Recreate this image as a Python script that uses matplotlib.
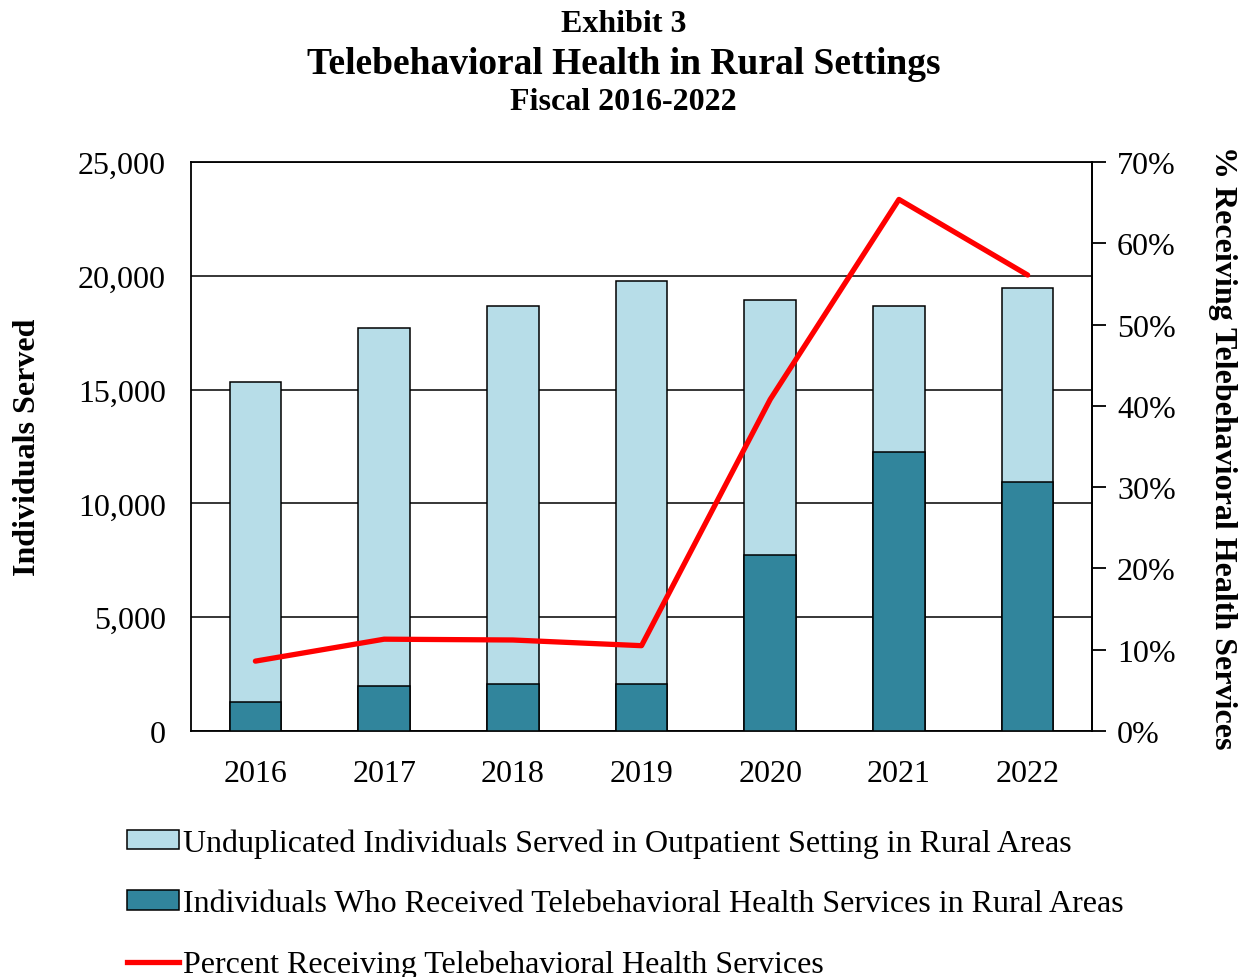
import matplotlib
matplotlib.use("Agg")
import matplotlib.pyplot as plt
from matplotlib.ticker import FuncFormatter, MultipleLocator
from matplotlib.patches import Patch
from matplotlib.lines import Line2D

years = ["2016", "2017", "2018", "2019", "2020", "2021", "2022"]
served_total = [15340, 17700, 18670, 19770, 18940, 18670, 19460]
served_tele = [1270, 1980, 2070, 2070, 7730, 12260, 10940]
pct_tele = [8.6, 11.3, 11.2, 10.5, 40.8, 65.4, 56.1]

light = "#B7DDE8"
dark = "#31859C"
red = "#FF0000"

plt.rcParams["font.family"] = ["Liberation Serif", "DejaVu Serif"]
FS = 23

fig = plt.figure(figsize=(12.47, 9.78), dpi=100)
ax = fig.add_axes([0.1532, 0.2515, 0.7225, 0.5818])

x = list(range(len(years)))
ax.set_axisbelow(True)
ax.yaxis.grid(True, color="black", linewidth=1.1)
ax.bar(x, served_total, width=0.40, color=light, edgecolor="black", linewidth=1.1, zorder=2)
ax.bar(x, served_tele, width=0.40, color=dark, edgecolor="black", linewidth=1.1, zorder=3)

ax.set_xlim(-0.5, len(years) - 0.5)
ax.set_ylim(0, 25000)
ax.yaxis.set_major_locator(MultipleLocator(5000))
ax.yaxis.set_major_formatter(FuncFormatter(lambda v, p: f"{int(v):,}"))
ax.set_xticks(x)
ax.set_xticklabels(years)
ax.tick_params(axis="both", length=0, labelsize=FS)
ax.tick_params(axis="x", pad=20)
ax.tick_params(axis="y", pad=18)
for s in ax.spines.values():
    s.set_color("black")
    s.set_linewidth(1.3)
ax.set_ylabel("Individuals Served", fontsize=FS, fontweight="bold", labelpad=26)

ax2 = ax.twinx()
ax2.plot(x, pct_tele, color=red, linewidth=3.8, solid_capstyle="round", zorder=5)
ax2.set_ylim(0, 70)
ax2.yaxis.set_major_locator(MultipleLocator(10))
ax2.yaxis.set_major_formatter(FuncFormatter(lambda v, p: f"{int(v)}%"))
ax2.tick_params(axis="y", direction="out", length=10, width=1.3, labelsize=FS, pad=8)
for s in ax2.spines.values():
    s.set_visible(False)
ax2.spines["right"].set_visible(True)
ax2.spines["right"].set_linewidth(1.3)
ax2.set_ylabel("% Receiving Telebehavioral Health Services", fontsize=FS,
               fontweight="bold", rotation=-90, labelpad=44)

fig.text(0.5, 1 - 24 / 978, "Exhibit 3", ha="center", va="center", fontsize=FS, fontweight="bold")
fig.text(0.5, 1 - 64 / 978, "Telebehavioral Health in Rural Settings", ha="center", va="center",
         fontsize=27, fontweight="bold")
fig.text(0.5, 1 - 103 / 978, "Fiscal 2016-2022", ha="center", va="center", fontsize=FS, fontweight="bold")

handles = [
    Patch(facecolor=light, edgecolor="black", linewidth=1.1),
    Patch(facecolor=dark, edgecolor="black", linewidth=1.1),
    Line2D([0], [0], color=red, linewidth=3.8),
]
labels = [
    "Unduplicated Individuals Served in Outpatient Setting in Rural Areas",
    "Individuals Who Received Telebehavioral Health Services in Rural Areas",
    "Percent Receiving Telebehavioral Health Services",
]
fig.legend(handles, labels, loc="upper left", bbox_to_anchor=(0.0914, 0.165),
           frameon=False, fontsize=FS, handlelength=1.65, handleheight=0.55,
           handletextpad=0.12, labelspacing=0.98, borderaxespad=0)

fig.savefig("out.png", dpi=100)
